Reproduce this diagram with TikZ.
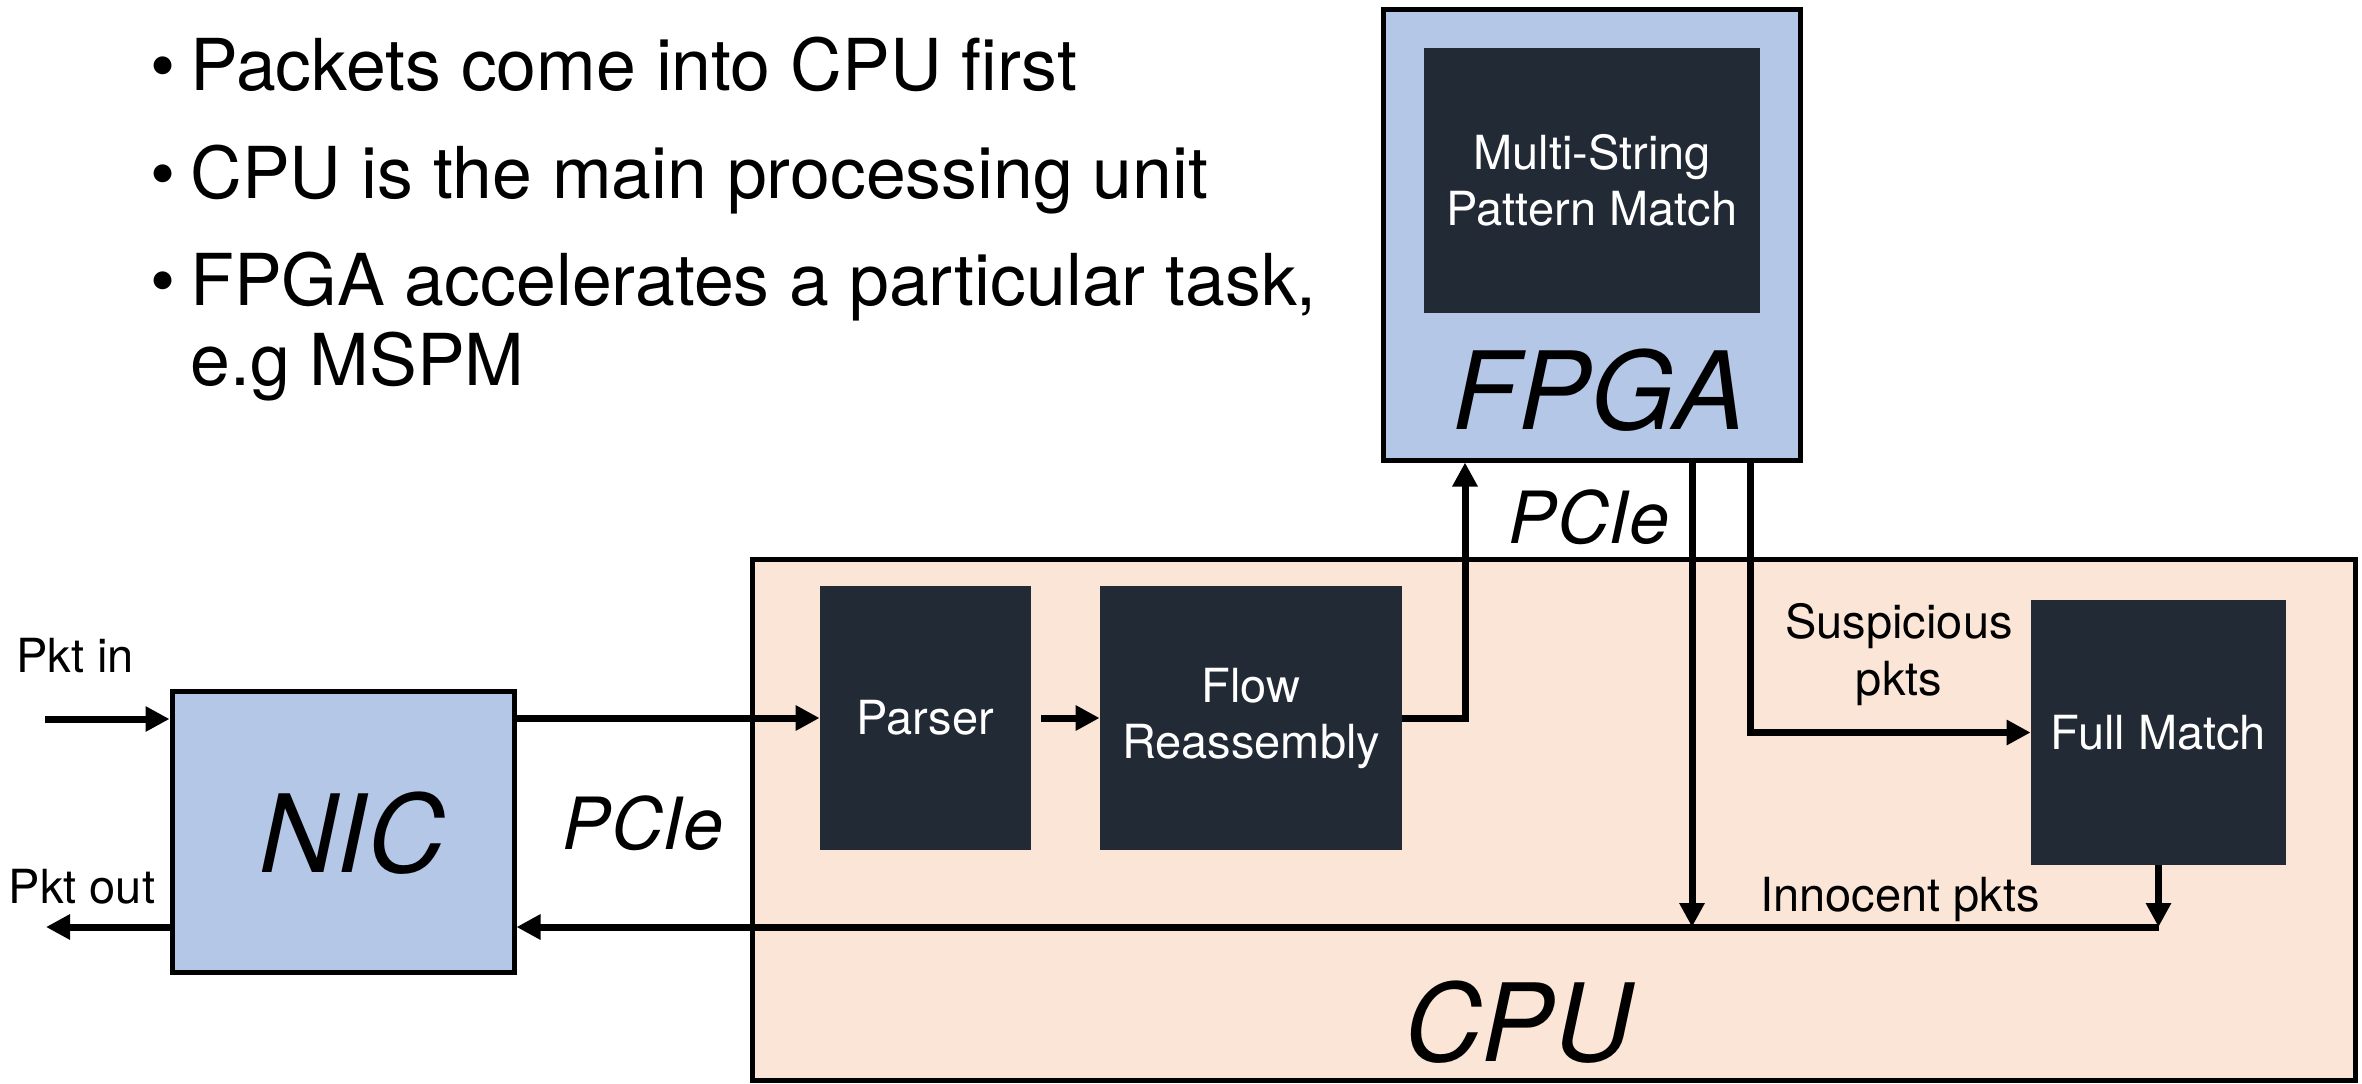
\documentclass[tikz,border=0pt]{standalone}
\usepackage{fontspec}
\setmainfont{TeX Gyre Heros}
\usetikzlibrary{arrows.meta}
\definecolor{nicblue}{HTML}{B4C7E7}
\definecolor{darkbox}{HTML}{222A35}
\definecolor{cpupeach}{HTML}{FBE5D6}
\begin{document}
\begin{tikzpicture}[x=0.5pt,y=-0.5pt,
  hwbox/.style={draw=black,line width=2.5pt,fill=nicblue,inner sep=0pt},
  cpubox/.style={draw=black,line width=2.5pt,fill=cpupeach,inner sep=0pt},
  darkblk/.style={fill=darkbox,text=white,inner sep=0pt,align=center,font=\fontsize{23.5}{28}\selectfont},
  lbl/.style={inner sep=0pt,align=center,font=\fontsize{23.5}{28.5}\selectfont},
  biglbl/.style={inner sep=0pt,font=\fontsize{54}{60}\selectfont\itshape},
  pcielbl/.style={inner sep=0pt,font=\fontsize{36}{40}\selectfont\itshape},
  btxt/.style={inner sep=0pt,anchor=base west,font=\fontsize{35.8}{40}\selectfont},
  arr/.style={line width=3.5pt,-{Triangle[length=12pt,width=12pt]}},
  wire/.style={line width=3.5pt}
]
\useasboundingbox (0,0) rectangle (2362,1083);

% bullets
\node[btxt] (b1) at (150,90.7) {\textbullet};
\node[btxt] (t1) at (190,90.7) {Packets come into CPU first};
\node[btxt] (b2) at (150,198.3) {\textbullet};
\node[btxt] (t2) at (190,198.3) {CPU is the main processing unit};
\node[btxt] (b3) at (150,305) {\textbullet};
\node[btxt] (t3) at (190,305) {FPGA accelerates a particular task,};
\node[btxt] (t4) at (190,385) {e.g MSPM};

% CPU
\node[cpubox,minimum width=801.5pt,minimum height=260.5pt] (cpu) at (1553.5,819.5) {};
\node[biglbl] (cpul) at (1518,1022) {CPU};
\node[darkblk,minimum width=105.5pt,minimum height=132pt] (parser) at (925.5,718) {Parser};
\node[darkblk,minimum width=151pt,minimum height=132pt] (flow) at (1251,718) {Flow\\Reassembly};
\node[darkblk,minimum width=127.5pt,minimum height=132.5pt] (full) at (2158.5,732.5) {Full Match};

% FPGA
\node[hwbox,minimum width=208.5pt,minimum height=225.5pt] (fpga) at (1591.5,234.5) {};
\node[darkblk,minimum width=168pt,minimum height=132.5pt] (mspm) at (1592,180.5) {Multi-String\\Pattern Match};
\node[biglbl] (fpgal) at (1599,390) {FPGA};

% NIC
\node[hwbox,minimum width=171pt,minimum height=140.5pt] (nic) at (343,831.5) {};
\node[biglbl] (nicl) at (352,833) {NIC};

% labels
\node[lbl] (pin) at (75,655.5) {Pkt in};
\node[lbl] (pout) at (82,887) {Pkt out};
\node[pcielbl] (pcie1) at (643,823) {PCIe};
\node[pcielbl] (pcie2) at (1589,517) {PCIe};
\node[lbl] (susp) at (1899,655) {Suspicious\\pkts};
\node[lbl,anchor=base] (inno) at (1900,911) {Innocent pkts};

% coordinates
\coordinate (inS) at (45,719);
\coordinate (outE) at (46,927);
\coordinate (j) at (2158.5,927);
\coordinate (f0) at (1465,0);
\coordinate (f1) at (1692,0);
\coordinate (f2) at (1750,0);

% connectors
\draw[arr] (inS) -- (inS -| nic.west);
\draw[arr] (nic.east |- parser.west) -- (parser.west);
\draw[arr] ([xshift=5pt]parser.east) -- (flow.west);
\draw[arr] (flow.east) -| (f0 |- fpga.south);
\draw[arr] (f1 |- fpga.south) -- (f1 |- j);
\draw[arr] (f2 |- fpga.south) |- (full.west);
\draw[arr] (full.south) -- (j);
\draw[arr] (j) -- (j -| nic.east);
\draw[arr] (nic.west |- j) -- (outE);
\end{tikzpicture}
\end{document}
